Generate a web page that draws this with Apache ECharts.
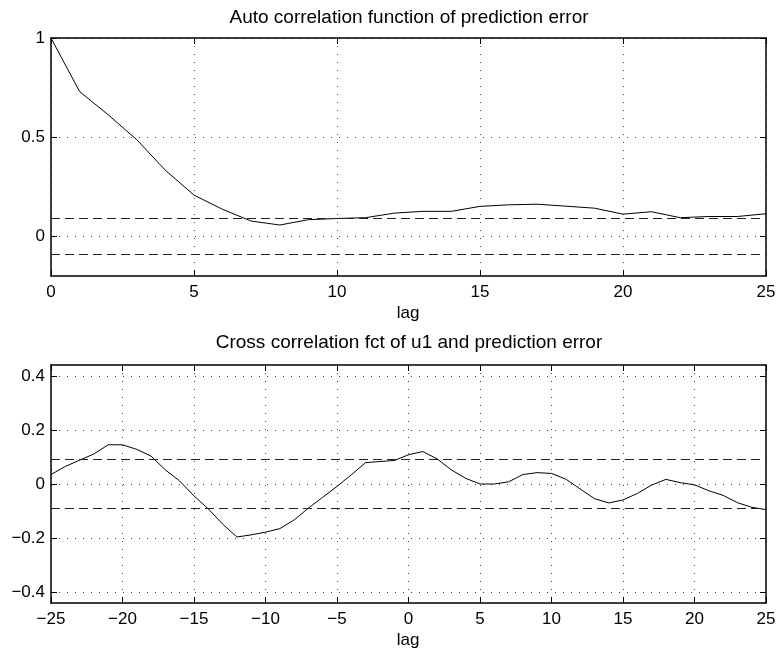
<!DOCTYPE html>
<html>
<head>
<meta charset="utf-8">
<script src="https://cdn.jsdelivr.net/npm/echarts@6/dist/echarts.min.js"></script>
<style>
  html, body { margin: 0; padding: 0; background: #fff; }
  #chart { width: 779px; height: 655px; }
</style>
</head>
<body>
<div id="chart"></div>
<script>
// autocorrelation of the prediction error, lags 0..25
const acfLags = [0,1,2,3,4,5,6,7,8,9,10,11,12,13,14,15,16,17,18,19,20,21,22,23,24,25];
const acfValues = [1.0, 0.730, 0.613, 0.487, 0.333, 0.208, 0.136, 0.077, 0.057, 0.084,
                   0.090, 0.094, 0.117, 0.126, 0.126, 0.151, 0.159, 0.162, 0.152, 0.142,
                   0.112, 0.124, 0.094, 0.100, 0.100, 0.114];

// cross correlation u1 / prediction error, lags -25..25
const ccfLags = [-25,-24,-23,-22,-21,-20,-19,-18,-17,-16,-15,-14,-13,-12,-11,-10,-9,-8,-7,-6,-5,-4,-3,-2,-1,
                 0,1,2,3,4,5,6,7,8,9,10,11,12,13,14,15,16,17,18,19,20,21,22,23,24,25];
const ccfValues = [0.035, 0.065, 0.088, 0.111, 0.145, 0.145, 0.128, 0.103, 0.052, 0.011,
                   -0.044, -0.092, -0.148, -0.196, -0.188, -0.178, -0.165, -0.133, -0.089, -0.049,
                   -0.009, 0.034, 0.079, 0.083, 0.087,
                   0.108, 0.120, 0.093, 0.052, 0.021, 0.000, 0.000, 0.008, 0.035, 0.042,
                   0.039, 0.018, -0.018, -0.054, -0.070, -0.059, -0.035, -0.004, 0.017, 0.005,
                   -0.003, -0.025, -0.042, -0.069, -0.086, -0.095];

// confidence band
const acfConf = 0.087;
const ccfConf = 0.087;

const acfTicksY = [0, 0.5, 1];
const ccfTicksY = [-0.4, -0.2, 0, 0.2, 0.4];

const FONT = 'Liberation Sans, Arial, Helvetica, sans-serif';
const minus = v => String(v).replace('-', '\u2212');

const chart = echarts.init(document.getElementById('chart'));

function pairs(xs, ys) { return xs.map((x, i) => [x, ys[i]]); }

function xAxes(gridIndex, min, max) {
  const common = {
    type: 'value', gridIndex: gridIndex, min: min, max: max, interval: 5,
    axisLine: { show: true, onZero: false, lineStyle: { color: '#000', width: 1.5 } },
    axisTick: { show: true, inside: true, length: 6, lineStyle: { color: '#000' } }
  };
  return [
    Object.assign({}, common, {
      position: 'bottom',
      axisLabel: { show: true, margin: 8, color: '#000', fontSize: 17, fontFamily: FONT, formatter: minus },
      splitLine: { show: true, lineStyle: { color: '#444', type: [1, 7], width: 1 } }
    }),
    Object.assign({}, common, {
      position: 'top',
      axisLabel: { show: false },
      splitLine: { show: false }
    })
  ];
}

function yAxes(gridIndex, min, max, ticks) {
  const common = {
    type: 'value', gridIndex: gridIndex, min: min, max: max,
    axisLine: { show: true, onZero: false, lineStyle: { color: '#000', width: 1.5 } },
    axisTick: { show: true, inside: true, length: 6, customValues: ticks, lineStyle: { color: '#000' } }
  };
  return [
    Object.assign({}, common, {
      position: 'left',
      axisLabel: { show: true, margin: 6, color: '#000', fontSize: 17, fontFamily: FONT,
                   customValues: ticks, formatter: minus },
      splitLine: { show: true, lineStyle: { color: '#444', type: [1, 7], width: 1 } }
    }),
    Object.assign({}, common, {
      position: 'right',
      axisLabel: { show: false },
      splitLine: { show: false }
    })
  ];
}

function confLines(c) {
  return {
    silent: true,
    symbol: 'none',
    label: { show: false },
    lineStyle: { color: '#222', type: [9, 5], width: 1 },
    data: [{ yAxis: c }, { yAxis: -c }]
  };
}

function textAt(txt, x, y, size) {
  return {
    type: 'text', x: x, y: y,
    style: { text: txt, fill: '#000', font: size + 'px ' + FONT, textAlign: 'center', textVerticalAlign: 'middle' }
  };
}

const option = {
  animation: false,
  backgroundColor: '#fff',
  grid: [
    { left: 51, top: 38, width: 715, height: 238 },
    { left: 51, top: 365, width: 715, height: 238 }
  ],
  xAxis: xAxes(0, 0, 25).concat(xAxes(1, -25, 25)),
  yAxis: yAxes(0, -0.2, 1, acfTicksY).concat(yAxes(1, -0.44, 0.44, ccfTicksY)),
  series: [
    {
      type: 'line', xAxisIndex: 0, yAxisIndex: 0,
      data: pairs(acfLags, acfValues),
      showSymbol: false, symbol: 'none',
      lineStyle: { color: '#000', width: 1 },
      markLine: confLines(acfConf)
    },
    {
      type: 'line', xAxisIndex: 2, yAxisIndex: 2,
      data: pairs(ccfLags, ccfValues),
      showSymbol: false, symbol: 'none',
      lineStyle: { color: '#000', width: 1 },
      markLine: confLines(ccfConf)
    }
  ],
  graphic: [
    textAt('Auto correlation function of prediction error', 409, 18, 19),
    textAt('lag', 408, 313, 17),
    textAt('Cross correlation fct of u1 and prediction error', 409, 343, 19),
    textAt('lag', 408, 640, 17)
  ]
};

chart.setOption(option);
</script>
</body>
</html>
